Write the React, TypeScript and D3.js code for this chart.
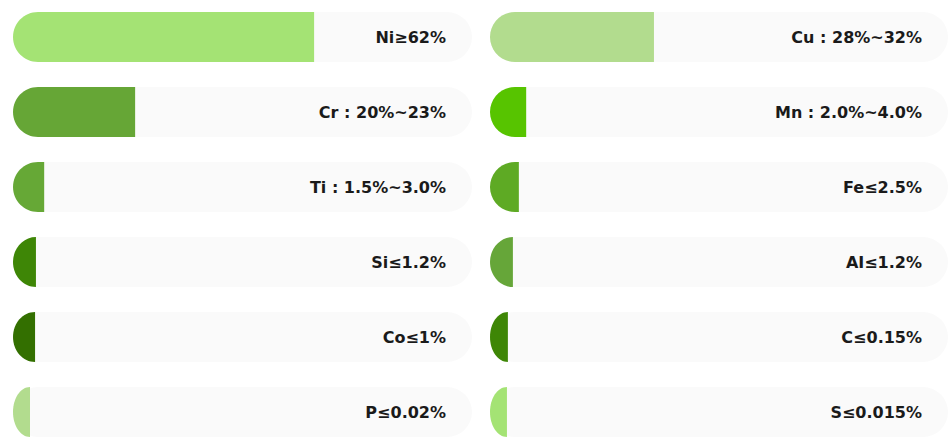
import React from "react";
import * as d3 from "d3";

const leftLabels = ["Ni≥62%", "Cr : 20%~23%", "Ti : 1.5%~3.0%", "Si≤1.2%", "Co≤1%", "P≤0.02%"];
const leftValues = [65.6, 26.6, 6.8, 5.0, 4.8, 3.7];
const leftColors = ["#a4e374", "#66a636", "#66a836", "#3e8606", "#336f00", "#b2dc8e"];

const rightLabels = ["Cu : 28%~32%", "Mn : 2.0%~4.0%", "Fe≤2.5%", "AI≤1.2%", "C≤0.15%", "S≤0.015%"];
const rightValues = [35.8, 7.9, 6.3, 5.0, 3.9, 3.7];
const rightColors = ["#b2dc8e", "#57c400", "#5eaa24", "#66a639", "#3e8606", "#a4e374"];

const W = 950;
const H = 447;

function leftRounded(x0: number, x1: number, y: number, h: number): string {
  const w = x1 - x0;
  const r = h / 2;
  const rx = Math.min(r, w);
  const p = d3.path();
  p.moveTo(x1, y);
  p.lineTo(x0 + rx, y);
  const k = 0.5523;
  p.bezierCurveTo(x0 + rx - rx * k, y, x0, y + r - r * k, x0, y + r);
  p.bezierCurveTo(x0, y + r + r * k, x0 + rx - rx * k, y + h, x0 + rx, y + h);
  p.lineTo(x1, y + h);
  p.closePath();
  return p.toString();
}

function Column({ labels, values, colors, x0, x1 }: { labels: string[]; values: number[]; colors: string[]; x0: number; x1: number }) {
  const x = d3.scaleLinear().domain([0, 100]).range([x0, x1]);
  const y = d3
    .scaleBand<number>()
    .domain(d3.range(labels.length))
    .range([12, 437])
    .paddingInner(1 / 3)
    .paddingOuter(0);
  return (
    <g>
      {labels.map((lab, i) => {
        const yy = y(i)!;
        const h = y.bandwidth();
        return (
          <g key={lab}>
            <rect x={x0} y={yy} width={x1 - x0} height={h} rx={h / 2} ry={h / 2} fill="#fafafa" />
            <path d={leftRounded(x(0), x(values[i]), yy, h)} fill={colors[i]} />
            <text
              x={x1 - 26}
              y={yy + h / 2}
              dy="0.36em"
              textAnchor="end"
              fontFamily="'DejaVu Sans', sans-serif"
              fontWeight="bold"
              fontSize={16}
              fill="#1a1a1a"
            >
              {lab}
            </text>
          </g>
        );
      })}
    </g>
  );
}

export default function App() {
  return (
    <svg width={W} height={H} style={{ position: "absolute", left: 0, top: 0, display: "block" }}>
      <rect width={W} height={H} fill="#ffffff" />
      <Column labels={leftLabels} values={leftValues} colors={leftColors} x0={13} x1={472} />
      <Column labels={rightLabels} values={rightValues} colors={rightColors} x0={490} x1={948} />
    </svg>
  );
}
